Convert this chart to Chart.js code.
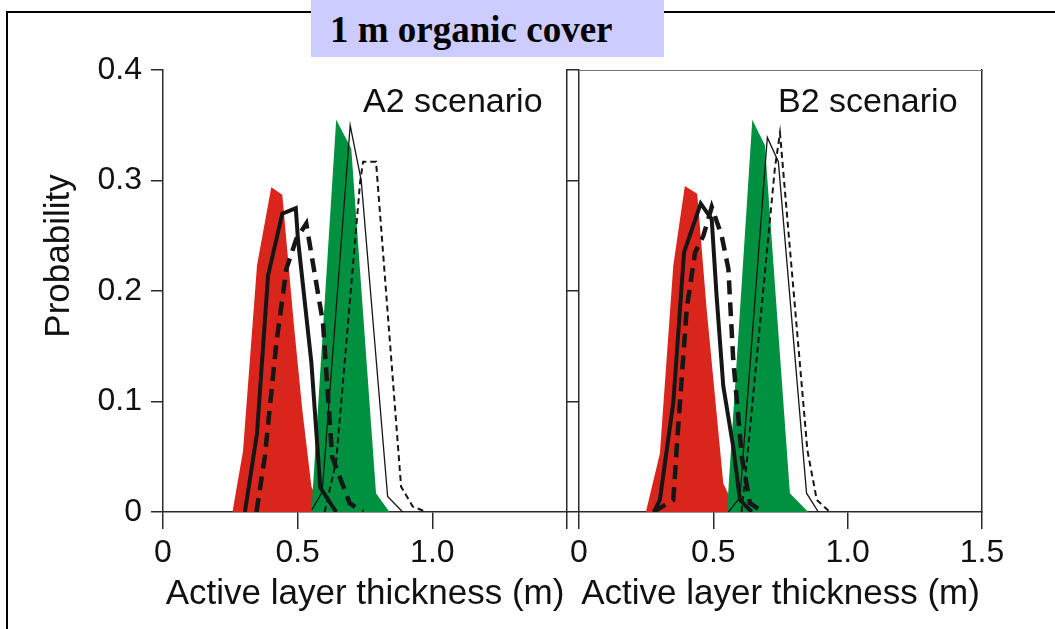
<!DOCTYPE html>
<html><head><meta charset="utf-8">
<script src="https://cdn.jsdelivr.net/npm/chart.js@4.4.1/dist/chart.umd.min.js"></script>
<style>
html,body{margin:0;padding:0;background:#fff;width:1055px;height:629px;overflow:hidden;position:relative;}
#frame{position:absolute;left:6px;top:11px;width:1200px;height:700px;border-top:2.5px solid #000;border-left:2px solid #000;}
#head{position:absolute;left:311px;top:0;width:353px;height:57px;background:#ccccff;}
#headText{position:absolute;left:330px;top:11px;font:bold 37px 'Liberation Serif','Times New Roman',serif;line-height:37px;color:#000;white-space:nowrap;}
.pl{position:absolute;top:83px;font:34px 'Liberation Sans',Arial,sans-serif;line-height:34px;color:#111;white-space:nowrap;}
#ytitle{position:absolute;left:-43px;top:238px;width:200px;height:36px;text-align:center;font:35px 'Liberation Sans',Arial,sans-serif;line-height:36px;color:#111;transform:rotate(-90deg);white-space:nowrap;}
canvas{position:absolute;left:0;top:0;}
</style></head>
<body>
<div id="frame"></div>
<div id="head"></div>
<div id="headText">1 m organic cover</div>
<canvas id="ca" width="1055" height="629"></canvas>
<canvas id="cb" width="1055" height="629"></canvas>
<div class="pl" style="left:363px">A2 scenario</div>
<div class="pl" style="left:778px">B2 scenario</div>
<div id="ytitle"></div>
<script>
// ---- tick labels / titles ----
const yTickLabels = ['0', '0.1', '0.2', '0.3', '0.4'];
const xTickLabelsA = ['0', '0.5', '1.0', ''];
const xTickLabelsB = ['0', '0.5', '1.0', '1.5'];
const xTitle = 'Active layer thickness (m)';
const yTitle = 'Probability';

// ---- A2 scenario (x: active layer thickness m, y: probability) ----
const a2RedX = [0.258, 0.267, 0.297, 0.349, 0.402, 0.443, 0.485, 0.517, 0.551, 0.593];
const a2RedY = [0, 0.013, 0.055, 0.223, 0.294, 0.287, 0.172, 0.093, 0.023, 0];
const a2GreenX = [0.551, 0.557, 0.643, 0.699, 0.791, 0.841];
const a2GreenY = [0, 0.023, 0.355, 0.329, 0.017, 0];
const a2ThickSolidX = [0.304, 0.349, 0.390, 0.443, 0.493, 0.501, 0.551, 0.584, 0.643];
const a2ThickSolidY = [0, 0.071, 0.214, 0.270, 0.275, 0.247, 0.135, 0.022, 0];
const a2ThickDashX = [0.347, 0.378, 0.421, 0.458, 0.495, 0.532, 0.594, 0.628, 0.693, 0.742];
const a2ThickDashY = [0, 0.050, 0.153, 0.220, 0.247, 0.261, 0.171, 0.050, 0.008, 0];
const a2ThinSolidX = [0.553, 0.591, 0.695, 0.736, 0.834, 0.890];
const a2ThinSolidY = [0.002, 0.018, 0.350, 0.300, 0.014, 0];
const a2ThinDashX = [0.600, 0.643, 0.732, 0.743, 0.791, 0.884, 0.927, 0.977];
const a2ThinDashY = [0, 0.046, 0.299, 0.317, 0.317, 0.023, 0.005, 0];

// ---- B2 scenario ----
const b2RedX = [0.249, 0.301, 0.351, 0.394, 0.440, 0.475, 0.537, 0.587];
const b2RedY = [0, 0.053, 0.223, 0.295, 0.288, 0.184, 0.026, 0];
const b2GreenX = [0.550, 0.556, 0.645, 0.692, 0.785, 0.853];
const b2GreenY = [0, 0.020, 0.355, 0.332, 0.017, 0];
const b2ThickSolidX = [0.279, 0.301, 0.351, 0.391, 0.453, 0.494, 0.512, 0.537, 0.574, 0.599, 0.643];
const b2ThickSolidY = [0, 0.011, 0.099, 0.235, 0.279, 0.265, 0.196, 0.114, 0.059, 0.011, 0];
const b2ThickDashX = [0.277, 0.351, 0.364, 0.401, 0.432, 0.463, 0.494, 0.531, 0.556, 0.574, 0.606, 0.636, 0.686];
const b2ThickDashY = [0, 0.011, 0.059, 0.184, 0.235, 0.250, 0.276, 0.250, 0.220, 0.138, 0.050, 0.008, 0];
const b2ThinSolidX = [0.556, 0.599, 0.701, 0.742, 0.847, 0.891];
const b2ThinSolidY = [0, 0.013, 0.339, 0.317, 0.017, 0];
const b2ThinDashX = [0.605, 0.624, 0.711, 0.729, 0.748, 0.783, 0.850, 0.885, 0.934];
const b2ThinDashY = [0, 0.044, 0.265, 0.311, 0.343, 0.244, 0.056, 0.011, 0];

// ---- styles ----
const RED = '#da251d', GREEN = '#009140', INK = '#161616', AXIS = '#2a2a2a';
const STY = {
  red:        {backgroundColor: RED, borderColor: 'rgba(0,0,0,0)', borderWidth: 0, fill: 'origin', order: 6},
  green:      {backgroundColor: GREEN, borderColor: 'rgba(0,0,0,0)', borderWidth: 0, fill: 'origin', order: 5},
  thinDash:   {borderColor: INK, borderWidth: 2, borderDash: [6, 4], fill: false, order: 4},
  thinSolid:  {borderColor: INK, borderWidth: 1.3, fill: false, order: 3},
  thickSolid: {borderColor: INK, borderWidth: 4, fill: false, order: 2},
  thickDash:  {borderColor: INK, borderWidth: 4.5, borderDash: [14, 8], fill: false, order: 1}
};
function ds(xs, ys, st) {
  return Object.assign({data: xs.map((x, i) => ({x: x, y: ys[i]})), pointRadius: 0, tension: 0, borderJoinStyle: 'miter', borderCapStyle: 'butt'}, st);
}

document.getElementById('ytitle').textContent = yTitle;
Chart.defaults.font.family = "'Liberation Sans', Arial, sans-serif";
Chart.defaults.color = '#111';

function makeChart(id, sets, opts) {
  const scales = {
    x: {type: 'linear', position: 'bottom', min: 0, max: 1.5, display: true,
        afterFit: s => { s.height = 117; },
        ticks: {stepSize: 0.5, padding: 5, font: {size: 32}, color: '#111', maxRotation: 0, autoSkip: false,
                callback: v => opts.xLabels[Math.round(v * 2)]},
        grid: {drawOnChartArea: false, tickLength: 17, color: AXIS, lineWidth: 1.5},
        border: {display: true, color: AXIS, width: 1.5},
        title: {display: true, text: xTitle, font: {size: 35}, color: '#111', padding: {top: 0, bottom: 14}}},
    y: {type: 'linear', position: 'left', min: 0, max: 0.4, display: true,
        afterFit: s => { s.width = opts.yWidth; },
        ticks: {stepSize: 0.1, padding: 9, font: {size: 32}, color: '#111', display: opts.yLabels,
                callback: v => yTickLabels[Math.round(v * 10)]},
        grid: {drawOnChartArea: false, tickLength: 12, color: AXIS, lineWidth: 1.5},
        border: {display: true, color: AXIS, width: 1.5}},
    yR: {type: 'linear', position: 'right', min: 0, max: 0.4, display: true,
        afterFit: s => { s.width = 0; },
        ticks: {display: false}, grid: {display: false},
        border: {display: true, color: AXIS, width: 1.5}}
  };
  if (opts.top) {
    scales.xT = {type: 'linear', position: 'top', min: 0, max: 1.5, display: true,
        afterFit: s => { s.height = 0; },
        ticks: {display: false}, grid: {display: false},
        border: {display: true, color: '#777', width: 1}};
  }
  return new Chart(document.getElementById(id), {
    type: 'line',
    data: {datasets: sets},
    options: {
      responsive: false, animation: false, devicePixelRatio: 1,
      layout: {padding: opts.padding},
      plugins: {legend: {display: false}, tooltip: {enabled: false}, title: {display: false}},
      scales: scales
    }
  });
}

makeChart('ca', [
  ds(a2RedX, a2RedY, STY.red), ds(a2GreenX, a2GreenY, STY.green),
  ds(a2ThinDashX, a2ThinDashY, STY.thinDash), ds(a2ThinSolidX, a2ThinSolidY, STY.thinSolid),
  ds(a2ThickSolidX, a2ThickSolidY, STY.thickSolid), ds(a2ThickDashX, a2ThickDashY, STY.thickDash)
], {xLabels: xTickLabelsA, yWidth: 163, yLabels: true, top: false,
    padding: {left: 0, top: 70, right: 1055 - 567, bottom: 0}});

makeChart('cb', [
  ds(b2RedX, b2RedY, STY.red), ds(b2GreenX, b2GreenY, STY.green),
  ds(b2ThinDashX, b2ThinDashY, STY.thinDash), ds(b2ThinSolidX, b2ThinSolidY, STY.thinSolid),
  ds(b2ThickSolidX, b2ThickSolidY, STY.thickSolid), ds(b2ThickDashX, b2ThickDashY, STY.thickDash)
], {xLabels: xTickLabelsB, yWidth: 13, yLabels: false, top: true,
    padding: {left: 579 - 13, top: 70, right: 1055 - 982, bottom: 0}});
</script>
</body></html>
